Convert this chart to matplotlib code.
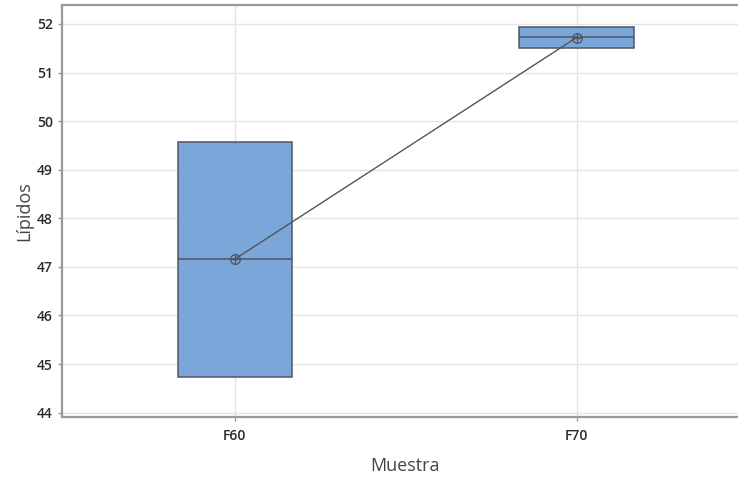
import matplotlib
matplotlib.use("Agg")
import matplotlib.pyplot as plt

categories = ["F60", "F70"]
q1 = [44.74, 51.51]
median = [47.17, 51.74]
q3 = [49.57, 51.94]
means = [47.16, 51.72]
yticks = [44, 45, 46, 47, 48, 49, 50, 51, 52]

plt.rcParams['font.family'] = ['Open Sans', 'DejaVu Sans']

fig = plt.figure(figsize=(7.38, 4.79), dpi=100)
ax = fig.add_axes([62/738, 62/479, 686/738, 412/479])

stats = []
for i, c in enumerate(categories):
    stats.append(dict(label=c, q1=q1[i], med=median[i], q3=q3[i],
                      whislo=q1[i], whishi=q3[i], fliers=[], mean=means[i]))

pos = list(range(len(categories)))
edge = "#4f5661"
ax.bxp(stats, positions=pos, widths=0.334, patch_artist=True,
       showfliers=False, showcaps=False, showmeans=False,
       boxprops=dict(facecolor="#7ba6d9", edgecolor=edge, linewidth=1.1),
       medianprops=dict(color=edge, linewidth=1.1),
       whiskerprops=dict(linewidth=0), zorder=3)

ax.plot(pos, means, color="#50555b", linewidth=1.0, zorder=4)
ax.plot(pos, means, linestyle="none", marker="o", markersize=7,
        markerfacecolor="none", markeredgecolor="#50555b", markeredgewidth=0.9, zorder=5)
ax.plot(pos, means, linestyle="none", marker="+", markersize=7,
        markeredgecolor="#50555b", markeredgewidth=0.9, zorder=5)

ax.set_xlim(-0.506, 1.502)
ax.set_ylim(43.91, 52.39)
ax.set_yticks(yticks)
ax.set_yticklabels([str(t) for t in yticks])
ax.set_xticks(pos)
ax.set_xticklabels(categories)

ax.grid(True, color="#e4e4e4", linewidth=1.0, zorder=0)
ax.set_axisbelow(True)

for s in ["left", "bottom", "top"]:
    ax.spines[s].set_color("#9a9a9a")
    ax.spines[s].set_linewidth(1.6)
ax.spines["right"].set_visible(False)

ax.tick_params(axis="both", colors="#333333", labelsize=10, length=3, width=1,
               direction="out")
ax.tick_params(axis="x", pad=6)
ax.tick_params(axis="both", color="#9a9a9a")
for lab in ax.get_xticklabels() + ax.get_yticklabels():
    lab.set_color("#2a2a2a")
    lab.set_fontweight("semibold")

ax.set_ylabel("Lípidos", fontsize=13, color="#444444", labelpad=3)
ax.set_xlabel("Muestra", fontsize=13, color="#444444", labelpad=10)

fig.savefig("out.png", dpi=100)
